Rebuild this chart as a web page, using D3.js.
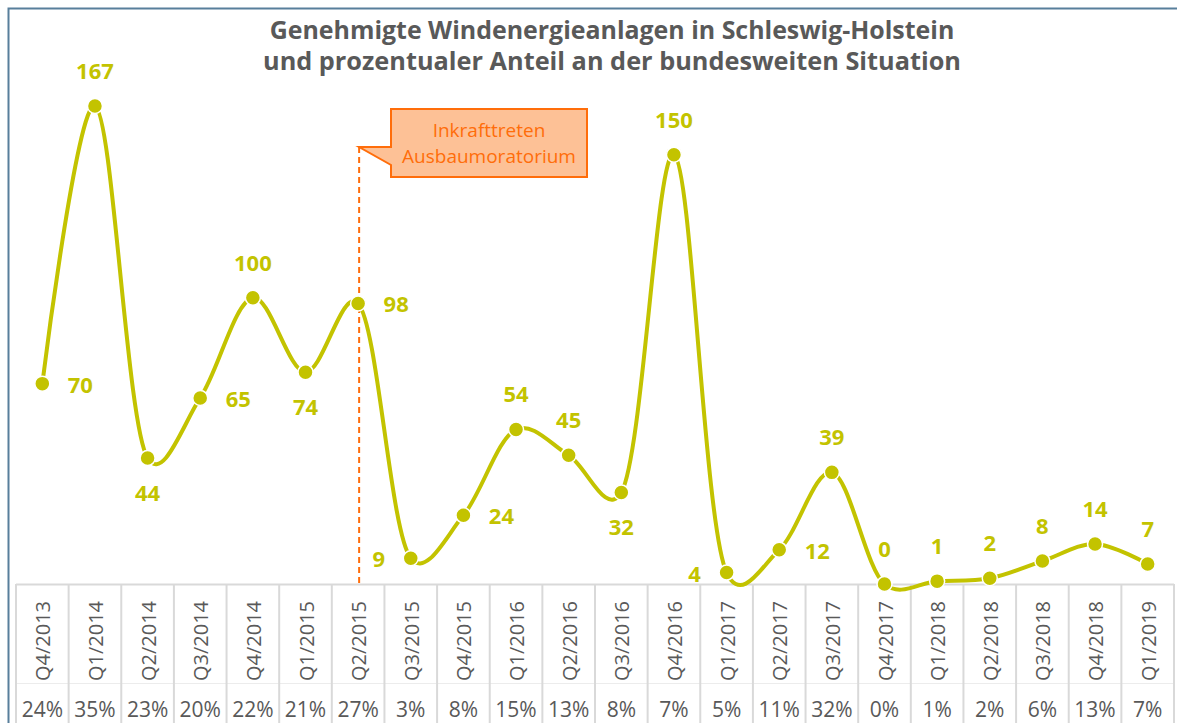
<!DOCTYPE html>
<html>
<head>
<meta charset="utf-8">
<script src="https://cdn.jsdelivr.net/npm/d3@7"></script>
<style>
  html, body { margin: 0; padding: 0; background: #fff; }
  body { width: 1177px; height: 723px; overflow: hidden; font-family: "Open Sans", "Noto Sans", sans-serif; }
</style>
</head>
<body>
<div id="chart"></div>
<script>
// quarters on the x axis
const QUARTERS = [
  "Q4/2013", "Q1/2014", "Q2/2014", "Q3/2014", "Q4/2014", "Q1/2015", "Q2/2015",
  "Q3/2015", "Q4/2015", "Q1/2016", "Q2/2016", "Q3/2016", "Q4/2016", "Q1/2017",
  "Q2/2017", "Q3/2017", "Q4/2017", "Q1/2018", "Q2/2018", "Q3/2018", "Q4/2018", "Q1/2019"
];

// approved wind turbines in Schleswig-Holstein
const APPROVED = [70, 167, 44, 65, 100, 74, 98, 9, 24, 54, 45, 32, 150, 4, 12, 39, 0, 1, 2, 8, 14, 7];

// share of the national total (%)
const SHARE = [24, 35, 23, 20, 22, 21, 27, 3, 8, 15, 13, 8, 7, 5, 11, 32, 0, 1, 2, 6, 13, 7];

const MARKER_QUARTER = "Q2/2015";
const TITLE_LINES = [
  "Genehmigte Windenergieanlagen in Schleswig-Holstein",
  "und prozentualer Anteil an der bundesweiten Situation"
];
const NOTE_LINES = ["Inkrafttreten", "Ausbaumoratorium"];

// where each value label sits relative to its point
const LABEL_SIDE = ["r", "t", "b", "r", "t", "b", "r", "l", "r", "t", "t", "b",
                    "t", "l", "r", "t", "t", "t", "t", "t", "t", "t"];

const LINE_COL = "#c3c300";
const TEXT_COL = "#595959";
const GRID_COL = "#d9d9d9";
const ORANGE   = "#ff6d0a";

const W = 1177, H = 723;
const baseY = 584;

const svg = d3.select("#chart").append("svg")
  .attr("width", W)
  .attr("height", H);

// outer frame
svg.append("rect")
  .attr("x", 8.5).attr("y", 8.5)
  .attr("width", W + 20).attr("height", H + 20)
  .attr("fill", "none")
  .attr("stroke", "#587f9b")
  .attr("stroke-width", 2);

const x = d3.scaleBand()
  .domain(QUARTERS)
  .range([16, 1174])
  .padding(0);

const y = d3.scaleLinear()
  .domain([0, 167])
  .range([baseY, 106]);

const cx = q => x(q) + x.bandwidth() / 2;

// ------- TITLE -------
svg.append("g").selectAll("text")
  .data(TITLE_LINES)
  .enter()
  .append("text")
  .attr("x", 612)
  .attr("y", (d, i) => 39 + i * 31)
  .attr("text-anchor", "middle")
  .attr("fill", TEXT_COL)
  .attr("font-size", 25)
  .attr("font-weight", 700)
  .attr("textLength", d => d.length > 52 ? 698 : 698 * 51 / 52)
  .attr("lengthAdjust", "spacingAndGlyphs")
  .text(d => d);

// ------- TABLE (category axis) -------
const table = svg.append("g");

table.append("line")
  .attr("x1", x.range()[0]).attr("x2", x.range()[1])
  .attr("y1", baseY + 0.5).attr("y2", baseY + 0.5)
  .attr("stroke", GRID_COL).attr("stroke-width", 2);

table.append("line")
  .attr("x1", x.range()[0]).attr("x2", x.range()[1])
  .attr("y1", 683.5).attr("y2", 683.5)
  .attr("stroke", "#ececec").attr("stroke-width", 1);

table.selectAll("line.col")
  .data(QUARTERS.concat(["end"]))
  .enter()
  .append("line")
  .attr("class", "col")
  .attr("x1", d => d === "end" ? x.range()[1] : x(d))
  .attr("x2", d => d === "end" ? x.range()[1] : x(d))
  .attr("y1", baseY)
  .attr("y2", H)
  .attr("stroke", GRID_COL)
  .attr("stroke-width", 2);

table.selectAll("text.q")
  .data(QUARTERS)
  .enter()
  .append("text")
  .attr("class", "q")
  .attr("transform", d => `translate(${cx(d) + 8},641) rotate(-90)`)
  .attr("text-anchor", "middle")
  .attr("fill", TEXT_COL)
  .attr("font-size", 20)
  .text(d => d);

table.selectAll("text.pct")
  .data(SHARE)
  .enter()
  .append("text")
  .attr("class", "pct")
  .attr("x", (d, i) => cx(QUARTERS[i]))
  .attr("y", 717)
  .attr("text-anchor", "middle")
  .attr("fill", TEXT_COL)
  .attr("font-size", 21)
  .text(d => d + "%");

// ------- MORATORIUM MARKER -------
const mx = cx(MARKER_QUARTER) + 1;
const tipY = 147;

svg.append("line")
  .attr("x1", mx).attr("x2", mx)
  .attr("y1", tipY).attr("y2", baseY)
  .attr("stroke", ORANGE)
  .attr("stroke-width", 2)
  .attr("stroke-dasharray", "6,4");

const box = { x0: 391, y0: 109, x1: 587, y1: 177 };
svg.append("path")
  .attr("d", `M${box.x0},${box.y0} L${box.x1},${box.y0} L${box.x1},${box.y1} L${box.x0},${box.y1}
              L${box.x0},${tipY + 18} L${mx},${tipY} L${box.x0},${tipY} Z`)
  .attr("fill", "#fdc196")
  .attr("stroke", ORANGE)
  .attr("stroke-width", 2)
  .attr("stroke-linejoin", "miter");

svg.append("g").selectAll("text")
  .data(NOTE_LINES)
  .enter()
  .append("text")
  .attr("x", (box.x0 + box.x1) / 2)
  .attr("y", (d, i) => 137 + i * 26)
  .attr("text-anchor", "middle")
  .attr("fill", ORANGE)
  .attr("font-size", 19)
  .text(d => d);

// ------- LINE + POINTS -------
const pts = APPROVED.map((v, i) => ({ q: QUARTERS[i], v, side: LABEL_SIDE[i] }));

const line = d3.line()
  .x(d => cx(d.q))
  .y(d => y(d.v))
  .curve(d3.curveCatmullRom.alpha(0.2));

svg.append("path")
  .datum(pts)
  .attr("d", line)
  .attr("fill", "none")
  .attr("stroke", LINE_COL)
  .attr("stroke-width", 4);

svg.append("g").selectAll("circle")
  .data(pts)
  .enter()
  .append("circle")
  .attr("cx", d => cx(d.q))
  .attr("cy", d => y(d.v))
  .attr("r", 7.5)
  .attr("fill", LINE_COL)
  .attr("stroke", "#fff")
  .attr("stroke-width", 1.5);

const offs = {
  t: [0, -27],
  b: [0, 43],
  r: [38, 9],
  l: [-32, 9]
};

svg.append("g").selectAll("text")
  .data(pts)
  .enter()
  .append("text")
  .attr("x", d => cx(d.q) + offs[d.side][0])
  .attr("y", d => y(d.v) + offs[d.side][1])
  .attr("text-anchor", "middle")
  .attr("fill", LINE_COL)
  .attr("font-size", 22)
  .attr("font-weight", 700)
  .text(d => d.v);
</script>
</body>
</html>
